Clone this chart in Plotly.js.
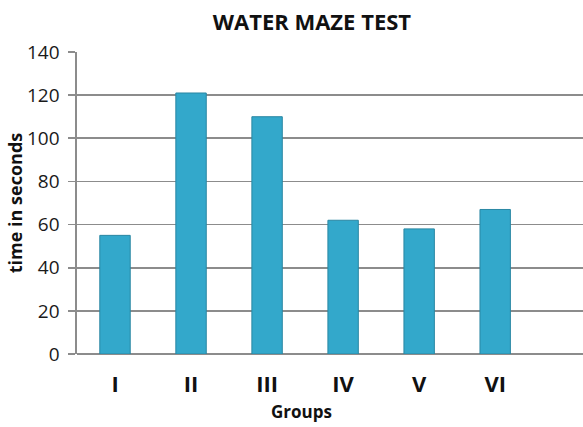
<!DOCTYPE html>
<html>
<head>
<meta charset="utf-8">
<script src="https://cdn.plot.ly/plotly-3.0.1.min.js"></script>
<style>
html,body{margin:0;padding:0;background:#fff;}
#chart{width:583px;height:427px;}
</style>
</head>
<body>
<div id="chart"></div>
<script>
const groups = ["I", "II", "III", "IV", "V", "VI"];
const timeSeconds = [55, 121, 110, 62, 58, 67];
const yTicks = [0, 20, 40, 60, 80, 100, 120, 140];

const trace = {
  type: "bar",
  x: groups,
  y: timeSeconds,
  width: 0.4,
  marker: {
    color: "#33a8cb",
    line: {color: "#2a87a3", width: 1}
  },
  hoverinfo: "x+y"
};

const layout = {
  width: 583,
  height: 427,
  margin: {l: 77, r: 0, t: 52, b: 73, pad: 0},
  paper_bgcolor: "#ffffff",
  plot_bgcolor: "#ffffff",
  showlegend: false,
  font: {family: "Open Sans, Liberation Sans, sans-serif", color: "#222"},
  title: {
    text: "<b>WATER MAZE TEST</b>",
    font: {size: 22, color: "#111"},
    x: 0.535, xanchor: "center",
    y: 0.948, yanchor: "middle"
  },
  xaxis: {
    type: "category",
    range: [-0.5, 6.155],
    showgrid: false,
    showline: false,
    ticks: "",
    tickfont: {size: 22, color: "#111", weight: "bold"},
    ticklabelstandoff: 15
  },
  yaxis: {
    range: [0, 140],
    tickvals: yTicks,
    showgrid: true,
    gridcolor: "#8c8c8c",
    gridwidth: 1.6,
    zeroline: true,
    zerolinecolor: "#8c8c8c",
    zerolinewidth: 1.6,
    showline: true,
    linecolor: "#8c8c8c",
    linewidth: 1.6,
    ticks: "outside",
    ticklen: 7,
    tickcolor: "#8c8c8c",
    tickwidth: 1.6,
    ticklabelstandoff: 5,
    tickfont: {size: 19, color: "#1a1a1a"},
    title: {text: "<b>time in seconds</b>", font: {size: 18, color: "#111"}, standoff: 0}
  },
  annotations: [{
    text: "<b>Groups</b>",
    xref: "paper", yref: "paper",
    x: (301.7 - 77) / 506, y: -0.19,
    xanchor: "center", yanchor: "middle",
    showarrow: false,
    font: {size: 17, color: "#111"}
  }]
};

Plotly.newPlot("chart", [trace], layout, {displayModeBar: false, staticPlot: true});
</script>
</body>
</html>
